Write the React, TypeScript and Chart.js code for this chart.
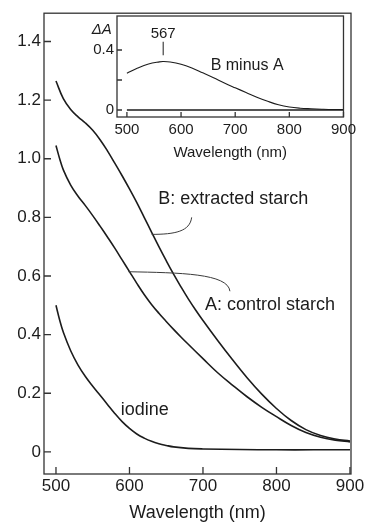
import { useEffect, useRef } from 'react';
import { Chart, registerables } from 'chart.js';

Chart.register(...registerables);

// ---- Data ----
const wavelengthB = [500, 510, 520, 530, 540, 550, 560, 570, 580, 590, 600, 610, 620, 630, 640, 650, 660, 670, 680, 690, 700, 720, 740, 760, 780, 800, 820, 840, 860, 880, 900];
const absorbanceB = [1.265, 1.205, 1.168, 1.143, 1.122, 1.097, 1.065, 1.027, 0.985, 0.942, 0.897, 0.85, 0.8, 0.75, 0.7, 0.652, 0.606, 0.563, 0.522, 0.484, 0.448, 0.38, 0.315, 0.253, 0.197, 0.148, 0.107, 0.076, 0.056, 0.044, 0.037];

const wavelengthA = [500, 505, 510, 520, 530, 540, 550, 560, 570, 580, 590, 600, 610, 620, 630, 640, 650, 660, 670, 680, 700, 720, 740, 760, 780, 800, 820, 840, 860, 880, 900];
const absorbanceA = [1.045, 1.0, 0.962, 0.91, 0.872, 0.84, 0.806, 0.77, 0.733, 0.695, 0.655, 0.615, 0.575, 0.537, 0.503, 0.473, 0.445, 0.418, 0.392, 0.367, 0.318, 0.27, 0.228, 0.188, 0.152, 0.12, 0.09, 0.066, 0.05, 0.04, 0.034];

const wavelengthIodine = [500, 505, 510, 520, 530, 540, 550, 560, 570, 580, 590, 600, 610, 620, 630, 640, 650, 660, 680, 700, 750, 800, 850, 900];
const absorbanceIodine = [0.5, 0.45, 0.408, 0.345, 0.296, 0.257, 0.224, 0.193, 0.162, 0.131, 0.103, 0.08, 0.061, 0.047, 0.036, 0.028, 0.022, 0.017, 0.012, 0.01, 0.008, 0.007, 0.007, 0.007];

const wavelengthDiff = [500, 520, 540, 560, 567, 580, 600, 620, 640, 660, 680, 700, 720, 740, 760, 780, 800, 820, 840, 860, 880, 900];
const diffBminusA = [0.245, 0.28, 0.307, 0.321, 0.323, 0.32, 0.305, 0.28, 0.248, 0.215, 0.18, 0.148, 0.117, 0.085, 0.058, 0.035, 0.02, 0.012, 0.008, 0.005, 0.003, 0.003];

const baselineWavelength = [500, 900];
const baselineValue = [0, 0];

const mainXTicks = [500, 600, 700, 800, 900];
const mainYTicks = [0, 0.2, 0.4, 0.6, 0.8, 1.0, 1.2, 1.4];
const mainYLabels = ['0', '0.2', '0.4', '0.6', '0.8', '1.0', '1.2', '1.4'];
const insetXTicks = [500, 600, 700, 800, 900];
const insetYTicks = [0, 0.2, 0.4];
const insetYLabels = ['0', '', '0.4'];

const FONT = "'Liberation Sans', Arial, Helvetica, sans-serif";
const INK = '#1c1c1c';
const AXIS = '#333333';

const toPoints = (xs: number[], ys: number[]) => xs.map((x, i) => ({ x, y: ys[i] }));

const framePlugin = (tickLen: number, xTicks: number[], yTicks: number[]) => ({
  id: 'frame',
  afterDraw(chart: any) {
    const { ctx, chartArea: a, scales } = chart;
    const x = scales.x;
    const y = scales.y;
    ctx.save();
    ctx.strokeStyle = AXIS;
    ctx.lineWidth = 1.3;
    ctx.strokeRect(a.left, a.top, a.right - a.left, a.bottom - a.top);
    ctx.beginPath();
    for (const v of xTicks) {
      const px = x.getPixelForValue(v);
      ctx.moveTo(px, a.bottom);
      ctx.lineTo(px, a.bottom - tickLen);
    }
    for (const v of yTicks) {
      const py = y.getPixelForValue(v);
      ctx.moveTo(a.left, py);
      ctx.lineTo(a.left + tickLen, py);
    }
    ctx.stroke();
    ctx.restore();
  },
});

const mainAnnotations = {
  id: 'mainAnnotations',
  afterDraw(chart: any) {
    const { ctx, scales } = chart;
    const X = (v: number) => scales.x.getPixelForValue(v);
    const Y = (v: number) => scales.y.getPixelForValue(v);
    ctx.save();
    ctx.fillStyle = INK;
    ctx.textBaseline = 'alphabetic';
    ctx.textAlign = 'left';
    ctx.font = `18px ${FONT}`;
    ctx.fillText('B: extracted starch', X(639), Y(0.847));
    ctx.fillText('A: control starch', X(702.7), Y(0.484));
    ctx.fillText('iodine', X(588), Y(0.125));
    ctx.strokeStyle = '#3a3a3a';
    ctx.lineWidth = 1;
    ctx.beginPath();
    ctx.moveTo(X(684.6), Y(0.8));
    ctx.bezierCurveTo(X(682.3), Y(0.752), X(662), Y(0.742), X(630.2), Y(0.742));
    ctx.stroke();
    ctx.beginPath();
    ctx.moveTo(X(598.4), Y(0.6145));
    ctx.bezierCurveTo(X(668.7), Y(0.611), X(734), Y(0.609), X(736.7), Y(0.548));
    ctx.stroke();
    ctx.restore();
  },
};

const insetAnnotations = {
  id: 'insetAnnotations',
  afterDraw(chart: any) {
    const { ctx, scales } = chart;
    const X = (v: number) => scales.x.getPixelForValue(v);
    const Y = (v: number) => scales.y.getPixelForValue(v);
    ctx.save();
    ctx.fillStyle = INK;
    ctx.textBaseline = 'alphabetic';
    ctx.font = `italic 15px ${FONT}`;
    ctx.textAlign = 'right';
    ctx.fillText('ΔA', X(472), Y(0.51));
    ctx.font = `15px ${FONT}`;
    ctx.textAlign = 'center';
    ctx.fillText('567', X(567), Y(0.478));
    ctx.font = `16px ${FONT}`;
    ctx.textAlign = 'left';
    ctx.fillText('B minus A', X(654.7), Y(0.267));
    ctx.strokeStyle = INK;
    ctx.lineWidth = 1;
    ctx.beginPath();
    ctx.moveTo(X(567), Y(0.455));
    ctx.lineTo(X(567), Y(0.365));
    ctx.stroke();
    ctx.restore();
  },
};

const lineDs = (label: string, xs: number[], ys: number[], width: number) => ({
  label,
  data: toPoints(xs, ys),
  borderColor: INK,
  borderWidth: width,
  pointRadius: 0,
  fill: false,
  tension: 0.4,
});

export default function App() {
  const mainRef = useRef<HTMLCanvasElement>(null);
  const insetRef = useRef<HTMLCanvasElement>(null);

  useEffect(() => {
    const main = new Chart(mainRef.current as HTMLCanvasElement, {
      type: 'line',
      data: {
        datasets: [
          lineDs('B: extracted starch', wavelengthB, absorbanceB, 1.6),
          lineDs('A: control starch', wavelengthA, absorbanceA, 1.6),
          lineDs('iodine', wavelengthIodine, absorbanceIodine, 1.6),
        ],
      },
      options: {
        responsive: false,
        animation: false,
        layout: { padding: { top: 10, right: 16, left: 0, bottom: 0 } },
        plugins: { legend: { display: false }, tooltip: { enabled: false } },
        scales: {
          x: {
            type: 'linear',
            min: 483.7,
            max: 901.4,
            grid: { display: false, drawTicks: false },
            border: { display: false },
            afterBuildTicks: (s: any) => { s.ticks = mainXTicks.map((v) => ({ value: v })); },
            afterFit: (s: any) => { s.height = 48; },
            ticks: {
              autoSkip: false,
              maxRotation: 0,
              padding: 2,
              color: INK,
              font: { family: FONT, size: 17 },
              callback: (v: any) => String(v),
            },
            title: {
              display: true,
              text: 'Wavelength (nm)',
              color: INK,
              font: { family: FONT, size: 18, lineHeight: 1.0 },
              padding: { top: 0, bottom: 0 },
            },
          },
          y: {
            type: 'linear',
            min: -0.0755,
            max: 1.4965,
            grid: { display: false, drawTicks: false },
            border: { display: false },
            afterBuildTicks: (s: any) => { s.ticks = mainYTicks.map((v) => ({ value: v })); },
            afterFit: (s: any) => { s.width = 44; },
            ticks: {
              autoSkip: false,
              padding: 3,
              color: INK,
              font: { family: FONT, size: 17 },
              callback: (v: any) => {
                const i = mainYTicks.findIndex((t) => Math.abs(t - v) < 1e-9);
                return i >= 0 ? mainYLabels[i] : '';
              },
            },
          },
        },
      },
      plugins: [framePlugin(7, mainXTicks, mainYTicks), mainAnnotations],
    });

    const inset = new Chart(insetRef.current as HTMLCanvasElement, {
      type: 'line',
      data: {
        datasets: [
          lineDs('B minus A', wavelengthDiff, diffBminusA, 1.1),
          lineDs('baseline', baselineWavelength, baselineValue, 1.6),
        ],
      },
      options: {
        responsive: false,
        animation: false,
        layout: { padding: { top: 16, right: 14, left: 0, bottom: 0 } },
        plugins: { legend: { display: false }, tooltip: { enabled: false } },
        scales: {
          x: {
            type: 'linear',
            min: 481.7,
            max: 900,
            grid: { display: false, drawTicks: false },
            border: { display: false },
            afterBuildTicks: (s: any) => { s.ticks = insetXTicks.map((v) => ({ value: v })); },
            afterFit: (s: any) => { s.height = 53; },
            ticks: {
              autoSkip: false,
              maxRotation: 0,
              padding: 4,
              color: INK,
              font: { family: FONT, size: 15 },
              callback: (v: any) => String(v),
            },
            title: {
              display: true,
              text: 'Wavelength (nm)',
              color: INK,
              font: { family: FONT, size: 15, lineHeight: 1.2 },
              padding: { top: 0, bottom: 8 },
            },
          },
          y: {
            type: 'linear',
            min: -0.0467,
            max: 0.6267,
            grid: { display: false, drawTicks: false },
            border: { display: false },
            afterBuildTicks: (s: any) => { s.ticks = insetYTicks.map((v) => ({ value: v })); },
            afterFit: (s: any) => { s.width = 37; },
            ticks: {
              autoSkip: false,
              padding: 3,
              color: INK,
              font: { family: FONT, size: 15 },
              callback: (v: any) => {
                const i = insetYTicks.findIndex((t) => Math.abs(t - v) < 1e-9);
                return i >= 0 ? insetYLabels[i] : '';
              },
            },
          },
        },
      },
      plugins: [framePlugin(5, insetXTicks, insetYTicks), insetAnnotations],
    });

    return () => {
      main.destroy();
      inset.destroy();
    };
  }, []);

  return (
    <div style={{ position: 'fixed', left: 0, top: 0, width: 367, height: 522, background: '#fff' }}>
      <canvas ref={mainRef} width={367} height={522} style={{ position: 'absolute', left: 0, top: 0, width: 367, height: 522 }} />
      <canvas ref={insetRef} width={280} height={170} style={{ position: 'absolute', left: 80, top: 0, width: 280, height: 170 }} />
    </div>
  );
}
